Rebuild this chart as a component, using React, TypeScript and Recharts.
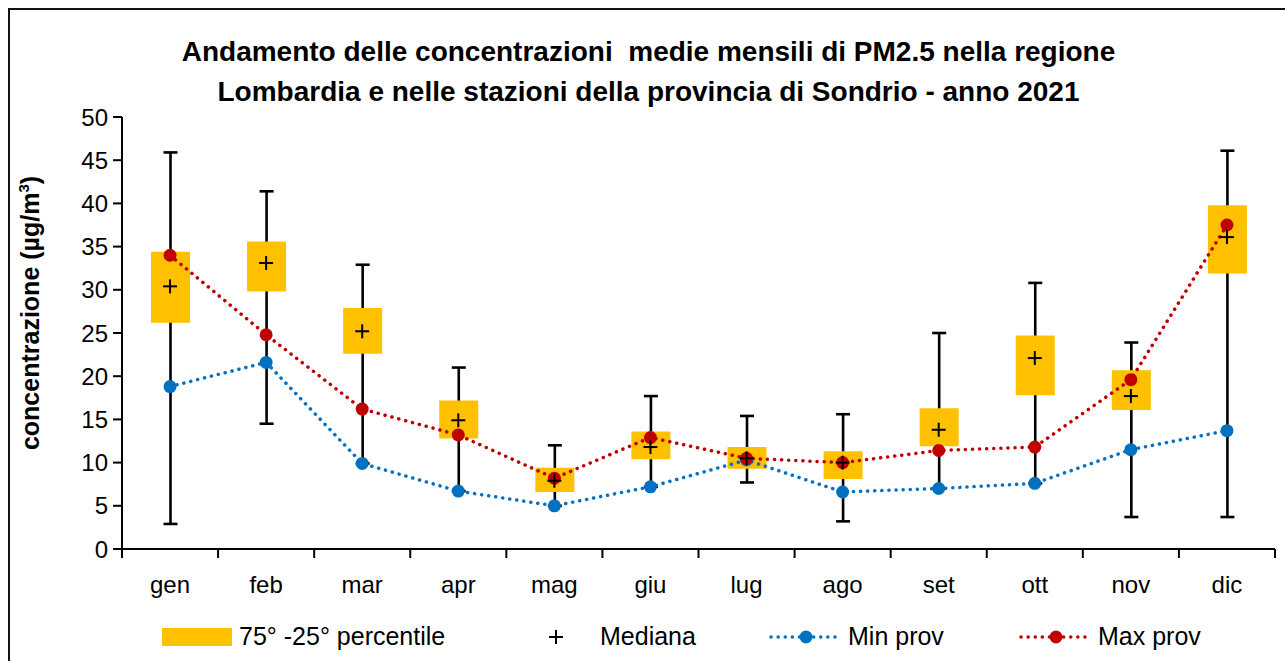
import { ComposedChart, Bar, Line, Scatter, XAxis, YAxis } from 'recharts';

const months = ['gen', 'feb', 'mar', 'apr', 'mag', 'giu', 'lug', 'ago', 'set', 'ott', 'nov', 'dic'];
const p25 = [26.2, 29.8, 22.6, 12.8, 6.6, 10.4, 9.3, 8.1, 11.9, 17.8, 16.1, 31.9];
const p75 = [34.4, 35.6, 27.9, 17.2, 9.4, 13.6, 11.8, 11.3, 16.3, 24.7, 20.7, 39.8];
const mediana = [30.4, 33.1, 25.2, 14.9, 7.9, 11.8, 10.5, 10.0, 13.8, 22.1, 17.7, 36.1];
const minReg = [2.9, 14.5, 9.9, 6.7, 5.0, 7.2, 7.7, 3.2, 7.0, 7.6, 3.7, 3.7];
const maxReg = [45.9, 41.4, 32.9, 21.0, 12.0, 17.7, 15.4, 15.6, 25.0, 30.8, 23.9, 46.1];
const minProv = [18.8, 21.6, 9.9, 6.7, 5.0, 7.2, 10.3, 6.6, 7.0, 7.6, 11.5, 13.7];
const maxProv = [34.0, 24.8, 16.2, 13.2, 8.2, 12.9, 10.5, 10.0, 11.4, 11.8, 19.6, 37.5];
const yTicks = [0, 5, 10, 15, 20, 25, 30, 35, 40, 45, 50];

const data = months.map((m, i) => ({
  m,
  base: p25[i],
  box: +(p75[i] - p25[i]).toFixed(2),
  mediana: mediana[i],
  min: minReg[i],
  max: maxReg[i],
  minProv: minProv[i],
  maxProv: maxProv[i],
}));

const FONT = '"Liberation Sans", Arial, sans-serif';
const W = 1285;
const H = 661;
const PLOT_L = 122;
const PLOT_R = 1275;
const PLOT_T = 117;
const PLOT_B = 549;
const BAND = (PLOT_R - PLOT_L) / months.length;

const MonthTick = (props: any) => {
  const { x, index, payload } = props;
  return (
    <g>
      <line x1={x - BAND / 2} x2={x - BAND / 2} y1={PLOT_B} y2={PLOT_B + 9} stroke="#000" strokeWidth={2} />
      {index === months.length - 1 && (
        <line x1={x + BAND / 2} x2={x + BAND / 2} y1={PLOT_B} y2={PLOT_B + 9} stroke="#000" strokeWidth={2} />
      )}
      <text x={x} y={PLOT_B + 44} textAnchor="middle" fontSize={24} fill="#000" fontFamily={FONT}>
        {payload.value}
      </text>
    </g>
  );
};

// transparent base of the box; also draws the min-max whisker behind the box,
// using the bar's own pixel scale (height covers 0..base)
const BaseWithWhisker = (props: any) => {
  const { x, y, width, height, payload } = props;
  if (!payload || !payload.base) return <g />;
  const unit = height / payload.base;
  const y0 = y + height;
  const cx = x + width / 2;
  const yMin = y0 - payload.min * unit;
  const yMax = y0 - payload.max * unit;
  return (
    <g stroke="#000" strokeWidth={2.6}>
      <line x1={cx} x2={cx} y1={yMin} y2={yMax} />
      <line x1={cx - 7} x2={cx + 7} y1={yMin} y2={yMin} />
      <line x1={cx - 7} x2={cx + 7} y1={yMax} y2={yMax} />
    </g>
  );
};

const Plus = (props: any) => {
  const { cx, cy } = props;
  return (
    <g stroke="#000" strokeWidth={2}>
      <line x1={cx - 7} x2={cx + 7} y1={cy} y2={cy} />
      <line x1={cx} x2={cx} y1={cy - 7} y2={cy + 7} />
    </g>
  );
};

export default function App() {
  return (
    <div style={{ position: 'fixed', left: 0, top: 0, width: W, height: H, background: '#fff', fontFamily: FONT }}>
      <div
        style={{
          position: 'absolute',
          left: 8,
          top: 8,
          width: W,
          height: H,
          borderTop: '2px solid #111',
          borderLeft: '2px solid #111',
        }}
      />
      <div
        style={{
          position: 'absolute',
          left: 0,
          top: 32,
          width: 1297,
          textAlign: 'center',
          fontWeight: 'bold',
          fontSize: 28,
          lineHeight: '40px',
          whiteSpace: 'pre',
        }}
      >
        {'Andamento delle concentrazioni  medie mensili di PM2.5 nella regione\nLombardia e nelle stazioni della provincia di Sondrio - anno 2021'}
      </div>
      <div
        style={{
          position: 'absolute',
          left: 30,
          top: 313,
          transform: 'translate(-50%, -50%) rotate(-90deg)',
          fontWeight: 'bold',
          fontSize: 25,
          whiteSpace: 'nowrap',
        }}
      >
        concentrazione (µg/m<sup style={{ fontSize: 15 }}>3</sup>)
      </div>
      <ComposedChart
        width={W}
        height={H}
        data={data}
        margin={{ top: PLOT_T, right: W - PLOT_R, left: 0, bottom: H - PLOT_B - 60 }}
        style={{ position: 'absolute', left: 0, top: 0 }}
      >
        <XAxis
          dataKey="m"
          height={60}
          axisLine={{ stroke: '#000', strokeWidth: 2 }}
          tickLine={false}
          tick={<MonthTick />}
          interval={0}
        />
        <YAxis
          width={PLOT_L}
          domain={[0, 50]}
          ticks={yTicks}
          interval={0}
          axisLine={{ stroke: '#000', strokeWidth: 2 }}
          tickLine={{ stroke: '#000', strokeWidth: 2 }}
          tickSize={9}
          tickMargin={5}
          tick={{ fontSize: 24, fill: '#000', fontFamily: FONT }}
        />
        <Bar dataKey="base" stackId="b" fill="transparent" barSize={39} shape={<BaseWithWhisker />} isAnimationActive={false} />
        <Bar dataKey="box" stackId="b" fill="#FFC000" barSize={39} isAnimationActive={false} />
        <Line
          dataKey="minProv"
          stroke="#0070C0"
          strokeWidth={3.5}
          strokeDasharray="0.1 7"
          strokeLinecap="round"
          dot={{ r: 6.5, fill: '#0070C0', stroke: 'none', strokeDasharray: '0' }}
          isAnimationActive={false}
        />
        <Line
          dataKey="maxProv"
          stroke="#C00000"
          strokeWidth={3.5}
          strokeDasharray="0.1 7"
          strokeLinecap="round"
          dot={{ r: 6.5, fill: '#C00000', stroke: 'none', strokeDasharray: '0' }}
          isAnimationActive={false}
        />
        <Scatter dataKey="mediana" shape={<Plus />} isAnimationActive={false} />
      </ComposedChart>
      <div style={{ position: 'absolute', top: 622, left: 0, width: W, height: 30, fontSize: 25 }}>
        <div style={{ position: 'absolute', left: 162, top: 6, width: 70, height: 18, background: '#FFC000' }} />
        <span style={{ position: 'absolute', left: 239, top: 0, whiteSpace: 'nowrap' }}>75° -25° percentile</span>
        <svg style={{ position: 'absolute', left: 546, top: 5 }} width={20} height={20}>
          <line x1={3} x2={17} y1={10} y2={10} stroke="#000" strokeWidth={2} />
          <line x1={10} x2={10} y1={3} y2={17} stroke="#000" strokeWidth={2} />
        </svg>
        <span style={{ position: 'absolute', left: 600, top: 0, whiteSpace: 'nowrap' }}>Mediana</span>
        <svg style={{ position: 'absolute', left: 768, top: 5 }} width={72} height={20}>
          <line x1={3} x2={69} y1={10} y2={10} stroke="#0070C0" strokeWidth={3.5} strokeDasharray="0.1 7" strokeLinecap="round" />
          <circle cx={38} cy={10} r={6.5} fill="#0070C0" />
        </svg>
        <span style={{ position: 'absolute', left: 848, top: 0, whiteSpace: 'nowrap' }}>Min prov</span>
        <svg style={{ position: 'absolute', left: 1018, top: 5 }} width={72} height={20}>
          <line x1={3} x2={69} y1={10} y2={10} stroke="#C00000" strokeWidth={3.5} strokeDasharray="0.1 7" strokeLinecap="round" />
          <circle cx={38} cy={10} r={6.5} fill="#C00000" />
        </svg>
        <span style={{ position: 'absolute', left: 1098, top: 0, whiteSpace: 'nowrap' }}>Max prov</span>
      </div>
    </div>
  );
}
